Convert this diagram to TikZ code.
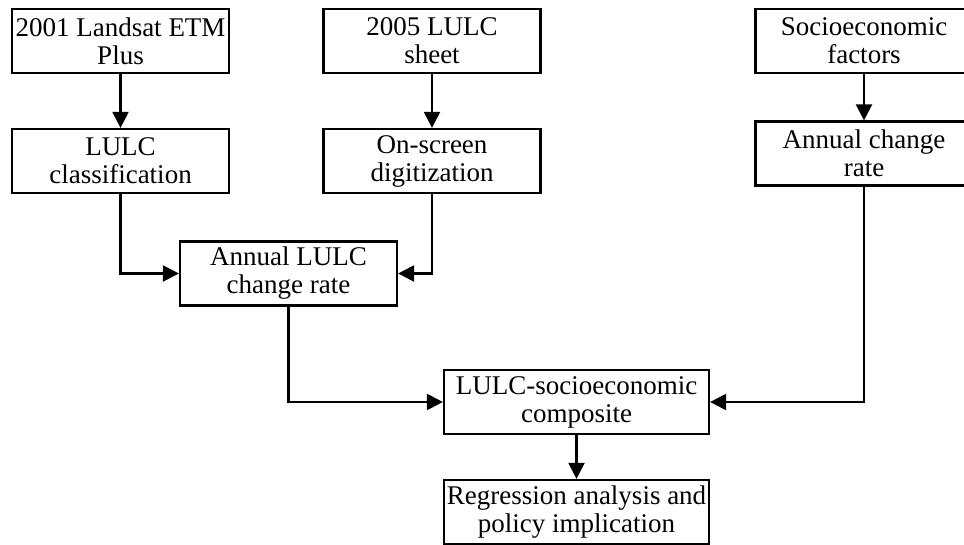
\documentclass[tikz,border=0pt]{standalone}
\usepackage{fontspec}
\setmainfont{Liberation Serif}
\usetikzlibrary{positioning}
\usetikzlibrary{arrows.meta}

\begin{document}
\begin{tikzpicture}[x=0.5pt,y=-0.5pt,
        box/.style={draw,line width=1.1pt,align=center,minimum width=108.5pt,
            minimum height=32pt,inner sep=1pt,
            font=\fontsize{13.5}{14}\selectfont},
        widebox/.style={box,minimum width=132.5pt},
        arr/.style={line width=1.1pt,-{Triangle[length=8pt,width=8pt]}}]
        \clip (0,0) rectangle (964,545);
        \node[box] (landsat) at (120.5,41) {2001 Landsat ETM\\Plus};
        \node[box] (classif) at (120.5,161) {LULC\\classification};
        \node[box] (sheet) at (432,41) {2005 LULC\\sheet};
        \node[box] (digit) at (432,161) {On-screen\\digitization};
        \node[box] (socio) at (864,41) {Socioeconomic\\factors};
        \node[box] (rate) at (864,153.5) {Annual change\\rate};
        \node[box] (lulcrate) at (288.5,273.5) {Annual LULC\\change rate};
        \node[widebox] (composite) at (576.5,402) {LULC-socioeconomic\\composite};
        \node[widebox] (regress) at (576.5,512) {Regression analysis and\\policy implication};

        \draw[arr] (landsat) -- (classif);
        \draw[arr] (sheet) -- (digit);
        \draw[arr] (socio) -- (rate);
        \draw[arr] (classif.south) |- (lulcrate.west);
        \draw[arr] (digit.south) |- (lulcrate.east);
        \draw[arr] (lulcrate.south) |- (composite.west);
        \draw[arr] (rate.south) |- (composite.east);
        \draw[arr] (composite) -- (regress);
    \end{tikzpicture}
\end{document}
